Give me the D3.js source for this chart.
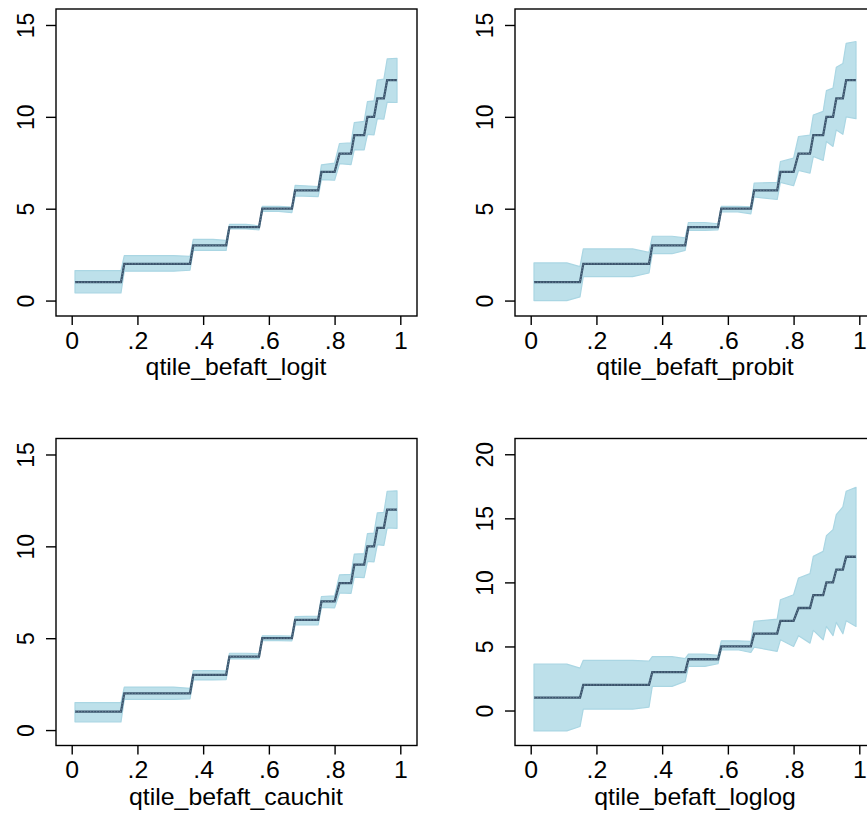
<!DOCTYPE html>
<html>
<head>
<meta charset="utf-8">
<script src="https://cdn.jsdelivr.net/npm/d3@7"></script>
<style>
  body { margin: 0; background: #fff; }
  text { font-family: "Liberation Sans", Arial, sans-serif; fill: #000; }
</style>
</head>
<body>
<svg width="867" height="816"></svg>
<script>
// Quantile segments (same cut points in every panel)
const segStart = [0.01, 0.16, 0.37, 0.48, 0.58, 0.68, 0.76, 0.815, 0.86, 0.90, 0.93, 0.96];
const segKnee  = [0.11, 0.31, 0.43, 0.53, 0.63, 0.68, 0.76, 0.815, 0.86, 0.90, 0.93, 0.96];
const segEnd   = [0.15, 0.36, 0.47, 0.57, 0.67, 0.75, 0.80, 0.85, 0.89, 0.92, 0.95, 0.99];
const segMean  = [1, 2, 3, 4, 5, 6, 7, 8, 9, 10, 11, 12];

// Confidence band per segment: lower/upper on the plateau (0) and at segment end (1)
const logitLo0 = [0.42, 1.60, 2.73, 3.90, 4.85, 5.70, 6.58, 7.45, 8.22, 9.05, 9.90, 10.80];
const logitLo1 = [0.42, 1.65, 2.73, 3.85, 4.79, 5.66, 6.55, 7.40, 8.20, 9.02, 9.87, 10.78];
const logitHi0 = [1.63, 2.45, 3.33, 4.15, 5.13, 6.27, 7.39, 8.55, 9.69, 10.83, 12.00, 13.15];
const logitHi1 = [1.63, 2.40, 3.28, 4.07, 5.09, 6.21, 7.48, 8.58, 9.75, 10.87, 12.05, 13.19];

const probitLo0 = [0.00, 1.30, 2.55, 3.82, 4.83, 5.64, 6.43, 7.08, 7.84, 8.66, 9.29, 10.00];
const probitLo1 = [0.20, 1.50, 2.73, 3.85, 4.72, 5.50, 6.25, 6.94, 7.63, 8.39, 9.05, 9.90];
const probitHi0 = [2.05, 2.81, 3.50, 4.25, 5.13, 6.40, 7.57, 8.93, 10.10, 11.43, 12.70, 14.00];
const probitHi1 = [1.85, 2.62, 3.41, 4.18, 5.10, 6.43, 7.75, 9.00, 10.30, 11.56, 12.90, 14.10];

const cauchitLo0 = [0.45, 1.67, 2.73, 3.87, 4.87, 5.73, 6.67, 7.46, 8.33, 9.18, 10.09, 11.00];
const cauchitLo1 = [0.45, 1.70, 2.75, 3.87, 4.85, 5.72, 6.65, 7.44, 8.30, 9.15, 10.05, 10.98];
const cauchitHi0 = [1.49, 2.34, 3.24, 4.18, 5.13, 6.18, 7.27, 8.45, 9.58, 10.69, 11.82, 13.00];
const cauchitHi1 = [1.49, 2.27, 3.22, 4.15, 5.12, 6.20, 7.30, 8.47, 9.60, 10.72, 11.85, 13.02];

const loglogLo0 = [-1.59, 0.11, 1.88, 3.44, 4.74, 4.95, 5.52, 5.84, 6.25, 6.56, 6.88, 7.00];
const loglogLo1 = [-1.25, 0.27, 2.27, 3.65, 4.53, 4.61, 5.00, 5.26, 5.52, 5.84, 5.99, 6.56];
const loglogHi0 = [3.62, 3.92, 4.20, 4.40, 5.44, 6.95, 8.65, 10.34, 12.03, 13.65, 15.29, 17.11];
const loglogHi1 = [3.31, 3.85, 4.05, 4.30, 5.39, 7.14, 9.04, 10.68, 12.42, 14.12, 15.89, 17.42];

const xTicks = [0, 0.2, 0.4, 0.6, 0.8, 1];
const xTickLabels = ["0", ".2", ".4", ".6", ".8", "1"];

const panels = [
  { title: "qtile_befaft_logit",   lo0: logitLo0,   lo1: logitLo1,   hi0: logitHi0,   hi1: logitHi1,
    yTicks: [0, 5, 10, 15], yDomain: [-0.84, 15.87], left: 56, top: 9 },
  { title: "qtile_befaft_probit",  lo0: probitLo0,  lo1: probitLo1,  hi0: probitHi0,  hi1: probitHi1,
    yTicks: [0, 5, 10, 15], yDomain: [-0.84, 15.87], left: 515, top: 9 },
  { title: "qtile_befaft_cauchit", lo0: cauchitLo0, lo1: cauchitLo1, hi0: cauchitHi0, hi1: cauchitHi1,
    yTicks: [0, 5, 10, 15], yDomain: [-0.84, 15.87], left: 56, top: 438.5 },
  { title: "qtile_befaft_loglog",  lo0: loglogLo0,  lo1: loglogLo1,  hi0: loglogHi0,  hi1: loglogHi1,
    yTicks: [0, 5, 10, 15, 20], yDomain: [-2.73, 21.23], left: 515, top: 438.5 }
];

const W = 361, H = 307;
const FS = 23, STRETCH = 1.08;   // text is a little wider than Arial in the original
const svg = d3.select("svg");

panels.forEach(p => {
  const g = svg.append("g").attr("transform", `translate(${p.left},${p.top})`);

  const x = d3.scaleLinear().domain([-0.0478, 1.0508]).range([0, W]);
  const y = d3.scaleLinear().domain(p.yDomain).range([H, 0]);

  // band points: segment start, knee (start of bend), segment end
  const band = [];
  const pts = [];
  segStart.forEach((s, i) => {
    band.push({ q: s, lo: p.lo0[i], hi: p.hi0[i] });
    if (segKnee[i] > s) band.push({ q: segKnee[i], lo: p.lo0[i], hi: p.hi0[i] });
    band.push({ q: segEnd[i], lo: p.lo1[i], hi: p.hi1[i] });
    pts.push({ q: s, m: segMean[i] });
    pts.push({ q: segEnd[i], m: segMean[i] });
  });

  g.append("path")
    .datum(band)
    .attr("fill", "#bde0ea")
    .attr("stroke", "#aad6e3")
    .attr("stroke-width", 1.2)
    .attr("stroke-linejoin", "round")
    .attr("d", d3.area().x(d => x(d.q)).y0(d => y(d.lo)).y1(d => y(d.hi)));

  // step line
  const line = d3.line().x(d => x(d.q)).y(d => y(d.m));
  g.append("path")
    .datum(pts)
    .attr("fill", "none")
    .attr("stroke", "#3a546c")
    .attr("stroke-width", 2.3)
    .attr("d", line);
  g.append("path")
    .datum(pts)
    .attr("fill", "none")
    .attr("stroke", "#8197ab")
    .attr("stroke-width", 0.7)
    .attr("stroke-dasharray", "1.3,1.7")
    .attr("d", line);

  // frame
  g.append("rect")
    .attr("width", W).attr("height", H)
    .attr("fill", "none").attr("stroke", "#000").attr("stroke-width", 1.4);

  // x axis
  const xa = g.append("g").attr("transform", `translate(0,${H})`)
    .call(d3.axisBottom(x).tickValues(xTicks).tickSize(9).tickPadding(0)
      .tickFormat((d, i) => xTickLabels[i]));
  xa.select(".domain").remove();
  xa.selectAll("line").attr("stroke", "#000").attr("stroke-width", 1.4);
  xa.selectAll("text")
    .attr("font-size", FS)
    .attr("font-family", "Liberation Sans, Arial, sans-serif")
    .attr("y", 33).attr("dy", 0)
    .attr("transform", `scale(${STRETCH},1)`);

  // y axis
  const ya = g.append("g")
    .call(d3.axisLeft(y).tickValues(p.yTicks).tickSize(10).tickFormat(d3.format("d")));
  ya.select(".domain").remove();
  ya.selectAll("line").attr("stroke", "#000").attr("stroke-width", 1.4);
  ya.selectAll("text")
    .attr("font-size", FS)
    .attr("font-family", "Liberation Sans, Arial, sans-serif")
    .attr("x", null).attr("dy", 0)
    .attr("transform", `translate(-22.5,0) scale(${STRETCH},1) rotate(-90)`)
    .attr("text-anchor", "middle");

  // axis title
  g.append("text")
    .attr("transform", `translate(${x(0.5)},${H + 59}) scale(${STRETCH},1)`)
    .attr("text-anchor", "middle")
    .attr("font-size", FS)
    .text(p.title);
});
</script>
</body>
</html>
